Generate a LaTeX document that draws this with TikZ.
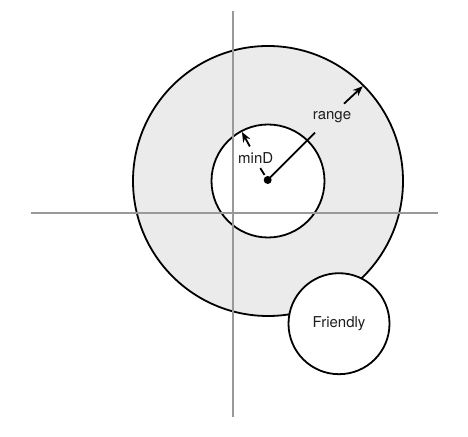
\documentclass[tikz,border=0pt]{standalone}
\usepackage{fontspec}
\setmainfont{TeX Gyre Heros}
\usetikzlibrary{arrows.meta,calc}
\definecolor{ringfill}{HTML}{EBEBEB}
\definecolor{axisgray}{HTML}{999999}
\definecolor{txt}{HTML}{1E1E1E}
\tikzset{
  ring/.style={circle, draw=black, line width=1.8pt, inner sep=0pt},
  axisline/.style={draw=axisgray, line width=1.7pt},
  pointer/.style={draw=black, line width=1.8pt},
  tip/.style={-{Stealth[length=10pt,width=8pt]}},
  lbl/.style={font=\fontsize{15}{17}\selectfont, text=txt, inner sep=1pt}
}
\begin{document}
\begin{tikzpicture}[x=1pt,y=1pt]
\useasboundingbox (0,0) rectangle (468,436);
% rings
\node[ring, fill=ringfill, minimum size=270pt] (outer) at (268,255) {};
\node[ring, fill=white, minimum size=113pt] (inner) at (outer.center) {};
% axes
\coordinate (xl) at (31,222.7);
\coordinate (xr) at (438,222.7);
\coordinate (yt) at (232.7,425);
\coordinate (yb) at (232.7,19);
\draw[axisline] (xl) -- (xr);
\draw[axisline] (yt) -- (yb);
% friendly
\node[ring, fill=white, minimum size=101pt, lbl] (fr) at (339,112.3) {Friendly};
% center dot
\node[circle, fill=black, minimum size=8pt, inner sep=0pt] (c) at (267.7,256) {};
% range
\coordinate (r0) at ($(c)+(45:2pt)$);
\coordinate (r1) at ($(c)+(45:67pt)$);
\coordinate (r2) at ($(c)+(45:108pt)$);
\coordinate (r3) at ($(outer.center)+(45:134pt)$);
\draw[pointer] (r0) -- (r1);
\draw[pointer, tip] (r2) -- (r3);
\node[lbl] (rl) at (332,319) {range};
% minD
\coordinate (m0) at ($(c)+(122:6pt)$);
\coordinate (m1) at ($(c)+(122:14pt)$);
\coordinate (m2) at ($(c)+(118:38pt)$);
\coordinate (m3) at ($(outer.center)+(118:55.5pt)$);
\draw[pointer] (m0) -- (m1);
\draw[pointer, tip] (m2) -- (m3);
\node[lbl] (ml) at (255.7,278) {minD};
\end{tikzpicture}
\end{document}
